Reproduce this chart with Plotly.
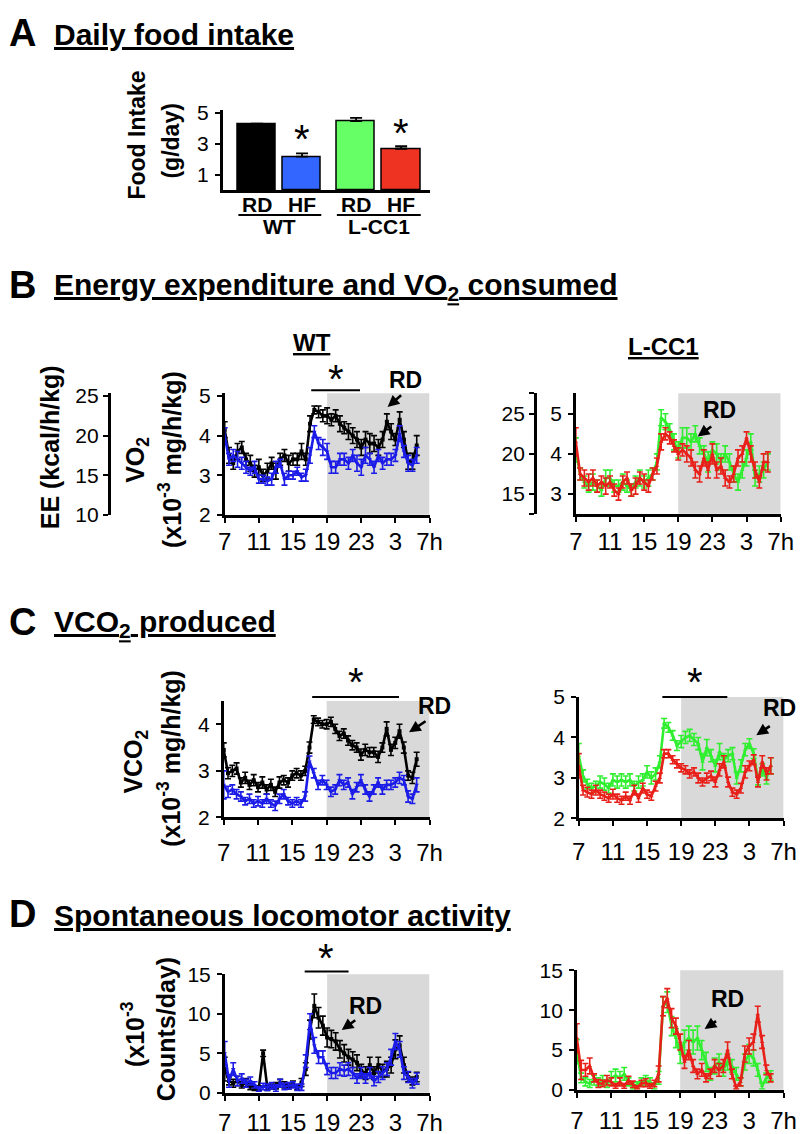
import plotly.graph_objects as go

W, H = 812, 1134
FONT = "Liberation Sans, Arial, Helvetica, sans-serif"

# ---------------- data ----------------
hours = [0, 0.5, 1, 1.5, 2, 2.5, 3, 3.5, 4, 4.5, 5, 5.5, 6, 6.5, 7, 7.5, 8, 8.5, 9, 9.5,
         10, 10.5, 11, 11.5, 12, 12.5, 13, 13.5, 14, 14.5, 15, 15.5, 16, 16.5, 17, 17.5,
         18, 18.5, 19, 19.5, 20, 20.5, 21, 21.5, 22, 22.5]
hour_ticks = [0, 4, 8, 12, 16, 20, 24]
hour_labels = ["7", "11", "15", "19", "23", "3", "7h"]
dark_phase = [12, 24]

bar_genotype = ["WT", "WT", "L-CC1", "L-CC1"]
bar_diet = ["RD", "HF", "RD", "HF"]
food_intake = [4.25, 2.18, 4.48, 2.69]
food_intake_err = [0.06, 0.21, 0.2, 0.16]

# B: VO2 (x10^-3 mg/h/kg)
vo2_wt_rd = [4.15, 3.5, 3.3, 3.6, 3.7, 3.4, 3.3, 3.1, 3.2, 3.0, 3.1, 3.3, 3.1, 3.4, 3.5, 3.3, 3.4, 3.4, 3.6, 3.4,
             4.3, 4.65, 4.6, 4.5, 4.5, 4.4, 4.5, 4.3, 4.2, 4.1, 4.0, 3.9, 3.7, 3.9, 3.8, 3.8, 3.7, 3.9, 4.35, 4.1,
             3.9, 4.4, 3.9, 3.35, 3.35, 3.75]
vo2_wt_rd_err = [0.2, 0.2, 0.15, 0.2, 0.15, 0.15, 0.2, 0.15, 0.2, 0.15, 0.2, 0.15, 0.2, 0.15, 0.15, 0.2, 0.15, 0.15, 0.2, 0.15,
                 0.2, 0.1, 0.15, 0.15, 0.2, 0.15, 0.15, 0.2, 0.15, 0.2, 0.2, 0.2, 0.2, 0.2, 0.25, 0.2, 0.2, 0.2, 0.2, 0.2,
                 0.15, 0.2, 0.2, 0.2, 0.2, 0.25]
vo2_wt_hf = [4.0, 3.4, 3.5, 3.4, 3.3, 3.2, 3.1, 3.2, 2.9, 2.9, 2.85, 2.9, 3.2, 3.3, 2.9, 3.0, 3.0, 3.1, 2.95, 3.0,
             3.5, 4.1, 3.8, 3.7, 3.6, 3.2, 3.2, 3.4, 3.4, 3.3, 3.5, 3.3, 3.2, 3.5, 3.4, 3.2, 3.5, 3.3, 3.4, 3.4,
             3.5, 4.05, 3.6, 3.3, 3.25, 3.5]
vo2_wt_hf_err = [0.2, 0.15, 0.15, 0.2, 0.15, 0.15, 0.1, 0.15, 0.1, 0.1, 0.1, 0.15, 0.15, 0.1, 0.15, 0.1, 0.1, 0.1, 0.1, 0.15,
                 0.2, 0.15, 0.15, 0.2, 0.2, 0.15, 0.15, 0.15, 0.15, 0.15, 0.15, 0.2, 0.2, 0.2, 0.15, 0.15, 0.15, 0.15, 0.15, 0.15,
                 0.15, 0.2, 0.15, 0.2, 0.15, 0.2]
vo2_cc1_rd = [4.1, 3.5, 3.3, 3.2, 3.3, 3.2, 3.1, 3.4, 3.4, 3.2, 3.2, 3.3, 3.2, 3.1, 3.3, 3.4, 3.3, 3.4, 3.5, 3.8,
              4.9, 4.8, 4.6, 4.3, 4.1, 4.4, 4.4, 4.3, 4.5, 4.2, 4.0, 3.8, 4.1, 4.0, 3.8, 4.0, 3.8, 3.5, 3.3, 3.6,
              3.9, 4.3, 3.4, 3.5, 3.6, 3.8]
vo2_cc1_rd_err = [0.3, 0.15, 0.15, 0.15, 0.2, 0.15, 0.15, 0.2, 0.2, 0.15, 0.15, 0.2, 0.15, 0.15, 0.15, 0.2, 0.15, 0.2, 0.15, 0.2,
                  0.2, 0.2, 0.15, 0.2, 0.2, 0.25, 0.25, 0.2, 0.2, 0.2, 0.2, 0.25, 0.2, 0.25, 0.2, 0.2, 0.2, 0.2, 0.2, 0.2,
                  0.2, 0.2, 0.2, 0.2, 0.2, 0.2]
vo2_cc1_hf = [4.3, 3.5, 3.4, 3.3, 3.4, 3.2, 3.3, 3.2, 3.3, 3.1, 3.0, 3.3, 3.4, 3.1, 3.2, 3.4, 3.3, 3.2, 3.5, 3.7,
              4.3, 4.5, 4.4, 4.2, 4.0, 4.1, 4.0, 3.9, 3.6, 3.5, 3.9, 3.6, 4.0, 3.6, 3.7, 3.4, 3.3, 3.5, 3.9, 4.0,
              4.4, 4.0, 3.6, 3.3, 3.8, 3.8]
vo2_cc1_hf_err = [0.35, 0.15, 0.2, 0.2, 0.2, 0.15, 0.15, 0.2, 0.15, 0.15, 0.15, 0.15, 0.15, 0.15, 0.2, 0.15, 0.2, 0.15, 0.15, 0.2,
                  0.2, 0.15, 0.15, 0.15, 0.15, 0.15, 0.2, 0.2, 0.2, 0.2, 0.2, 0.2, 0.25, 0.2, 0.2, 0.2, 0.15, 0.2, 0.2, 0.2,
                  0.15, 0.2, 0.2, 0.15, 0.2, 0.25]
ee_ticks_wt = [10, 15, 20, 25]
ee_ticks_cc1 = [15, 20, 25]

# C: VCO2 (x10^-3 mg/h/kg)
vco2_wt_rd = [3.45, 2.95, 3.0, 3.05, 2.75, 2.85, 2.7, 2.8, 2.65, 2.75, 2.6, 2.7, 2.55, 2.75, 2.8, 2.75, 2.9, 2.95, 2.9, 3.0,
              3.5, 4.1, 4.05, 4.0, 4.0, 4.05, 3.9, 3.75, 3.8, 3.65, 3.55, 3.5, 3.35, 3.45, 3.4, 3.4, 3.3, 3.5, 3.9, 3.45,
              3.6, 3.85, 3.5, 2.9, 2.85, 3.25]
vco2_wt_rd_err = [0.15, 0.12, 0.12, 0.12, 0.1, 0.12, 0.1, 0.12, 0.1, 0.12, 0.1, 0.12, 0.1, 0.12, 0.1, 0.1, 0.1, 0.1, 0.1, 0.1,
                  0.12, 0.08, 0.08, 0.08, 0.1, 0.1, 0.1, 0.1, 0.1, 0.1, 0.1, 0.1, 0.12, 0.12, 0.1, 0.1, 0.12, 0.1, 0.15, 0.12,
                  0.12, 0.15, 0.12, 0.1, 0.12, 0.15]
vco2_wt_hf = [2.7, 2.55, 2.6, 2.5, 2.45, 2.35, 2.4, 2.3, 2.35, 2.3, 2.4, 2.3, 2.25, 2.4, 2.5, 2.35, 2.3, 2.35, 2.3, 2.45,
              3.2, 2.95, 2.7, 2.8, 2.7, 2.55, 2.6, 2.8, 2.7, 2.75, 2.5, 2.65, 2.8, 2.6, 2.45, 2.6, 2.75, 2.6, 2.7, 2.7,
              2.75, 2.85, 2.8, 2.45, 2.4, 2.7]
vco2_wt_hf_err = [0.3, 0.12, 0.1, 0.1, 0.1, 0.08, 0.1, 0.08, 0.1, 0.08, 0.1, 0.08, 0.1, 0.1, 0.1, 0.08, 0.08, 0.08, 0.08, 0.1,
                  0.12, 0.1, 0.1, 0.1, 0.1, 0.1, 0.1, 0.12, 0.1, 0.1, 0.1, 0.1, 0.12, 0.1, 0.1, 0.1, 0.1, 0.1, 0.1, 0.1,
                  0.1, 0.12, 0.1, 0.12, 0.1, 0.15]
vco2_cc1_rd = [3.55, 3.05, 2.85, 2.75, 2.8, 2.9, 2.85, 2.75, 2.95, 2.9, 2.95, 2.9, 2.95, 2.8, 2.9, 2.95, 3.15, 3.0, 3.1, 3.4,
               4.35, 4.25, 4.05, 3.8, 3.9, 4.0, 4.05, 3.95, 3.85, 3.4, 3.75, 3.55, 3.3, 3.65, 3.45, 3.55, 3.6, 3.0, 3.3, 3.7,
               3.85, 3.6, 2.95, 3.2, 3.0, 3.3]
vco2_cc1_rd_err = [0.3, 0.15, 0.12, 0.12, 0.12, 0.15, 0.15, 0.12, 0.15, 0.15, 0.15, 0.15, 0.15, 0.12, 0.15, 0.15, 0.15, 0.15, 0.15, 0.15,
                   0.12, 0.12, 0.12, 0.12, 0.15, 0.15, 0.15, 0.15, 0.15, 0.2, 0.2, 0.15, 0.15, 0.2, 0.15, 0.15, 0.15, 0.15, 0.15, 0.15,
                   0.12, 0.12, 0.12, 0.15, 0.15, 0.2]
vco2_cc1_hf = [3.3, 2.7, 2.65, 2.6, 2.7, 2.6, 2.55, 2.5, 2.6, 2.5, 2.45, 2.55, 2.45, 2.7, 2.5, 2.75, 2.6, 2.55, 2.8, 3.0,
               3.6, 3.6, 3.45, 3.35, 3.25, 3.2, 3.1, 3.15, 3.0, 2.9, 3.0, 3.05, 2.9, 3.2, 3.4, 2.9, 2.65, 2.6, 2.75, 3.15,
               3.3, 3.45, 2.9, 3.4, 3.1, 3.3]
vco2_cc1_hf_err = [0.3, 0.12, 0.12, 0.1, 0.12, 0.1, 0.1, 0.1, 0.12, 0.1, 0.1, 0.1, 0.1, 0.12, 0.1, 0.12, 0.1, 0.1, 0.12, 0.12,
                   0.1, 0.1, 0.1, 0.1, 0.1, 0.1, 0.1, 0.1, 0.12, 0.1, 0.12, 0.12, 0.12, 0.15, 0.15, 0.12, 0.1, 0.1, 0.12, 0.15,
                   0.12, 0.12, 0.12, 0.15, 0.15, 0.2]

# D: locomotor activity (x10^-3 counts/day)
act_wt_rd = [3.0, 1.5, 1.2, 1.5, 1.0, 1.3, 0.8, 0.6, 0.6, 5.0, 0.6, 0.8, 0.9, 1.2, 1.0, 0.8, 1.1, 0.7, 1.3, 3.0,
             8.0, 11.0, 9.5, 8.5, 7.0, 6.8, 6.5, 5.5, 5.0, 4.5, 4.2, 3.8, 2.8, 2.5, 3.5, 2.5, 3.5, 2.8, 3.0, 3.5,
             5.5, 6.0, 3.5, 2.0, 1.5, 2.0]
act_wt_rd_err = [1.5, 0.5, 0.5, 0.6, 0.4, 0.5, 0.4, 0.3, 0.3, 0.4, 0.3, 0.3, 0.4, 0.5, 0.4, 0.3, 0.4, 0.3, 0.5, 0.8,
                 1.2, 1.5, 1.3, 1.2, 1.2, 1.1, 1.1, 1.1, 1.1, 1.0, 1.0, 1.0, 0.8, 0.8, 1.0, 0.8, 1.0, 0.8, 1.0, 1.0,
                 1.2, 1.2, 1.0, 0.6, 0.5, 0.6]
act_wt_hf = [5.0, 1.5, 3.0, 1.5, 1.8, 1.2, 1.5, 1.0, 0.5, 0.8, 0.7, 0.9, 0.6, 1.2, 0.8, 0.9, 1.0, 0.7, 0.7, 4.0,
             9.0, 6.0, 4.5, 4.5, 3.0, 2.5, 2.5, 3.0, 2.8, 3.0, 2.5, 1.8, 2.5, 1.8, 2.5, 1.5, 2.0, 2.5, 3.0, 4.5,
             6.5, 5.5, 2.5, 2.0, 1.2, 1.8]
act_wt_hf_err = [1.5, 0.8, 0.8, 0.6, 0.6, 0.5, 0.5, 0.4, 0.3, 0.4, 0.4, 0.4, 0.4, 0.5, 0.4, 0.4, 0.4, 0.4, 0.4, 0.8,
                 1.0, 1.0, 0.8, 0.8, 0.7, 0.7, 0.7, 0.8, 0.7, 0.8, 0.7, 0.6, 0.7, 0.6, 0.7, 0.6, 0.7, 0.8, 0.8, 1.0,
                 1.0, 1.0, 0.8, 0.7, 0.6, 0.7]
act_cc1_rd = [4.8, 1.5, 1.0, 0.8, 1.2, 1.0, 1.2, 0.8, 1.5, 1.8, 1.5, 2.0, 1.0, 0.5, 0.6, 1.0, 1.2, 1.0, 0.5, 1.5,
              10.5, 11.0, 8.0, 6.5, 4.5, 6.0, 6.5, 6.0, 6.5, 5.0, 3.5, 2.0, 3.0, 3.5, 2.5, 3.5, 3.0, 2.0, 1.0, 3.5,
              4.5, 4.0, 2.5, 0.5, 1.5, 1.8]
act_cc1_rd_err = [1.5, 0.6, 0.5, 0.5, 0.6, 0.5, 0.6, 0.5, 0.8, 0.8, 0.8, 0.8, 0.5, 0.4, 0.4, 0.5, 0.6, 0.5, 0.4, 0.8,
                  1.2, 1.3, 1.2, 1.2, 1.2, 1.5, 1.5, 1.5, 1.5, 1.2, 1.2, 0.8, 1.0, 1.0, 0.8, 1.0, 0.8, 0.8, 0.5, 1.0,
                  1.2, 1.0, 0.8, 0.4, 0.6, 0.6]
act_cc1_hf = [6.5, 2.5, 2.5, 3.0, 1.5, 0.8, 0.8, 1.2, 1.0, 0.5, 1.0, 0.5, 1.2, 0.7, 0.3, 0.8, 0.9, 0.5, 0.8, 2.0,
              10.5, 11.5, 9.0, 8.0, 6.0, 3.5, 5.0, 3.0, 2.0, 2.5, 1.5, 2.0, 3.0, 2.5, 3.0, 5.0, 2.0, 0.3, 1.0, 4.5,
              5.5, 6.0, 9.5, 6.0, 2.5, 1.5]
act_cc1_hf_err = [1.8, 1.2, 0.8, 1.0, 0.5, 0.5, 0.4, 0.6, 0.5, 0.3, 0.5, 0.3, 0.5, 0.4, 0.2, 0.4, 0.5, 0.3, 0.4, 1.0,
                  1.2, 1.2, 1.2, 1.0, 1.0, 0.8, 1.2, 0.8, 0.6, 0.8, 0.5, 0.6, 0.8, 0.8, 0.8, 1.0, 0.6, 0.2, 0.5, 1.0,
                  1.0, 1.0, 1.0, 0.8, 0.6, 0.5]

# ---------------- styling / layout helpers ----------------
C_BLACK = "#000000"
C_BLUE = "#1c1ce8"
C_GREEN = "#30ee30"
C_RED = "#e8201a"
BAR_COLORS = ["#000000", "#3366ff", "#66ff66", "#ee3322"]
GRAY = "#d9d9d9"
PAGE_OFFSET = 8  # the page body margin shifts the figure by this many pixels


def fx(px):
    return (px - PAGE_OFFSET) / W


def fy(py):
    return 1 - (py - PAGE_OFFSET) / H


fig = go.Figure()

# ---------- Panel A: bars ----------
bar_x = [0, 1, 2.2, 3.2]
fig.add_trace(go.Bar(
    x=bar_x, y=food_intake, width=0.85,
    marker=dict(color=BAR_COLORS, line=dict(color="black", width=1.5)),
    error_y=dict(type="data", array=food_intake_err, arrayminus=[0, 0, 0, 0],
                 symmetric=False, color="black", thickness=1.8, width=6),
    xaxis="x", yaxis="y", showlegend=False, hoverinfo="skip"))


def series(x_ax, y_ax, y, err, color, symbol):
    return go.Scatter(
        x=hours, y=y, xaxis=x_ax, yaxis=y_ax, mode="lines+markers",
        line=dict(color=color, width=2.6),
        marker=dict(color=color, size=4, symbol=symbol),
        error_y=dict(type="data", array=err, color=color, thickness=1.6, width=3),
        showlegend=False, hoverinfo="skip", cliponaxis=False)


fig.add_trace(series("x2", "y2", vo2_wt_rd, vo2_wt_rd_err, C_BLACK, "square"))
fig.add_trace(series("x2", "y2", vo2_wt_hf, vo2_wt_hf_err, C_BLUE, "triangle-down"))
fig.add_trace(series("x3", "y3", vo2_cc1_rd, vo2_cc1_rd_err, C_GREEN, "triangle-up"))
fig.add_trace(series("x3", "y3", vo2_cc1_hf, vo2_cc1_hf_err, C_RED, "triangle-up"))
fig.add_trace(series("x4", "y4", vco2_wt_rd, vco2_wt_rd_err, C_BLACK, "square"))
fig.add_trace(series("x4", "y4", vco2_wt_hf, vco2_wt_hf_err, C_BLUE, "triangle-down"))
fig.add_trace(series("x5", "y5", vco2_cc1_rd, vco2_cc1_rd_err, C_GREEN, "triangle-up"))
fig.add_trace(series("x5", "y5", vco2_cc1_hf, vco2_cc1_hf_err, C_RED, "triangle-up"))
fig.add_trace(series("x6", "y6", act_wt_rd, act_wt_rd_err, C_BLACK, "square"))
fig.add_trace(series("x6", "y6", act_wt_hf, act_wt_hf_err, C_BLUE, "triangle-down"))
fig.add_trace(series("x7", "y7", act_cc1_rd, act_cc1_rd_err, C_GREEN, "triangle-up"))
fig.add_trace(series("x7", "y7", act_cc1_hf, act_cc1_hf_err, C_RED, "triangle-up"))
# empty traces so that the EE (kcal/h/kg) axes are created
fig.add_trace(go.Scatter(x=[], y=[], xaxis="x2", yaxis="y8", showlegend=False))
fig.add_trace(go.Scatter(x=[], y=[], xaxis="x3", yaxis="y9", showlegend=False))

AX = dict(showline=True, linecolor="black", linewidth=2.5, showgrid=False,
          zeroline=False, ticks="outside", tickcolor="black", tickwidth=2,
          ticklen=5, fixedrange=True)
XTICKFONT = dict(family=FONT, size=24, color="black")
YTICKFONT = dict(family=FONT, size=21, color="black")


def time_x(x0, x1, anchor, standoff):
    return dict(AX, domain=[fx(x0), fx(x1)], range=[0, 24], anchor=anchor,
                tickvals=hour_ticks, ticktext=hour_labels, tickfont=XTICKFONT,
                ticklabelstandoff=standoff)


def val_y(top, bottom, rng, tickvals, anchor):
    return dict(AX, domain=[fy(bottom), fy(top)], range=rng, anchor=anchor,
                tickvals=tickvals, tickfont=YTICKFONT, ticklabelstandoff=2)


layout_axes = dict(
    xaxis=dict(AX, domain=[fx(221), fx(433)], range=[-0.76, 3.83], anchor="y",
               ticks="", showticklabels=False),
    yaxis=val_y(100, 182, [0, 5.18], [1, 3, 5], "x"),
    xaxis2=time_x(223, 433, "y2", -1),
    yaxis2=val_y(389, 513, [2, 5.07], [2, 3, 4, 5], "x2"),
    xaxis3=time_x(583, 793, "y3", 0),
    yaxis3=val_y(389, 512, [2.51, 5.51], [3, 4, 5], "x3"),
    xaxis4=time_x(222, 433, "y4", 7),
    yaxis4=val_y(703, 822, [2, 4.5], [2, 3, 4], "x4"),
    xaxis5=time_x(586, 796, "y5", 5),
    yaxis5=val_y(699, 823, [2, 5], [2, 3, 4, 5], "x5"),
    xaxis6=time_x(223, 433, "y6", 2),
    yaxis6=val_y(982, 1103, [0, 15], [0, 5, 10, 15], "x6"),
    xaxis7=time_x(584, 796, "y7", 3),
    yaxis7=val_y(978, 1100, [0, 15], [0, 5, 10, 15], "x7"),
    yaxis8=dict(AX, overlaying="y2", anchor="free", position=fx(104), side="left",
                range=[10, 25.35], tickvals=ee_ticks_wt, tickfont=YTICKFONT),
    yaxis9=dict(AX, overlaying="y3", anchor="free", position=fx(541), side="left",
                range=[12.55, 27.55], tickvals=[12.55] + ee_ticks_cc1 + [27.55],
                ticktext=[""] + [str(v) for v in ee_ticks_cc1] + [""], tickfont=YTICKFONT),
)

shapes = []
# dark-phase shading
for xa, ya in [("x2", "y2"), ("x3", "y3"), ("x4", "y4"), ("x5", "y5"), ("x6", "y6"), ("x7", "y7")]:
    shapes.append(dict(type="rect", xref=xa, yref=ya + " domain", x0=dark_phase[0], x1=dark_phase[1],
                       y0=0, y1=1, fillcolor=GRAY, line=dict(width=0), layer="below"))
# significance bars
for x0, x1, y in [(311.7, 361.7, 386), (312.7, 401.7, 699), (671.7, 738.3, 699), (305, 350, 979.3)]:
    shapes.append(dict(type="line", xref="paper", yref="paper", x0=fx(x0), x1=fx(x1),
                       y0=fy(y), y1=fy(y), line=dict(color="black", width=2)))
# genotype brackets under the bar chart
for x0, x1 in [(237, 322), (338, 424)]:
    shapes.append(dict(type="line", xref="paper", yref="paper", x0=fx(x0), x1=fx(x1),
                       y0=fy(207), y1=fy(207), line=dict(color="black", width=2)))

ann = []


def text(px, py, s, size, bold=True, angle=0, xanchor="center", xref="paper", xval=None):
    ann.append(dict(x=fx(px) if xval is None else xval, y=fy(py), xref=xref, yref="paper",
                    text=s, showarrow=False, borderpad=0,
                    xanchor=xanchor, yanchor="middle", textangle=angle,
                    font=dict(family=FONT, size=size, color="black",
                              weight="bold" if bold else "normal")))


def arrow(hx, hy, tx, ty):
    ann.append(dict(x=fx(hx), y=fy(hy), xref="paper", yref="paper", text="",
                    showarrow=True, ax=tx - hx, ay=ty - hy, arrowhead=2, arrowsize=0.9,
                    arrowwidth=2.6, arrowcolor="black", standoff=0, startstandoff=0))


# panel letters and titles
for py, letter, title in [(21, "A", "Daily food intake"),
                          (278, "B", "Energy expenditure and VO<sub>2</sub> consumed"),
                          (622, "C", "VCO<sub>2</sub> produced"),
                          (920, "D", "Spontaneous locomotor activity")]:
    text(1, py, letter, 38, xanchor="left")
    text(47, py + 2, "<u>" + title + "</u>", 30, xanchor="left")

# diet labels under the bars (on the bar axis) and genotype labels
for xv, d in zip(bar_x, bar_diet):
    text(0, 196, d, 21, xref="x", xval=xv)
text(279.5, 219, "WT", 21)
text(381, 219, "L-CC1", 21)

# column headers
text(313, 337, "<u>WT</u>", 24)
text(673, 341, "<u>L-CC1</u>", 24)

# y-axis titles
text(133, 125, "Food Intake", 23, angle=-90)
text(168, 132, "(g/day)", 23, angle=-90)
text(44, 444, "EE (kcal/h/kg)", 25, angle=-90)
text(133, 457, "VO<sub>2</sub>", 25, angle=-90)
text(167, 457, "(x10<sup>-3</sup> mg/h/kg)", 25, angle=-90)
text(131, 765, "VCO<sub>2</sub>", 25, angle=-90)
text(166, 762, "(x10<sup>-3</sup> mg/h/kg)", 25, angle=-90)
text(129, 1043, "(x10<sup>-3</sup>", 25, angle=-90)
text(163, 1038, "Counts/day)", 25, angle=-90)

# significance asterisks
for px, py in [(302, 128), (404, 122), (337, 373), (358, 683), (705, 683), (327, 964)]:
    text(px, py + 1, "*", 40, bold=False)

# RD labels with arrows
for (lx, ly), (hx, hy, tx, ty) in [((408, 375), (390, 403, 405, 390)),
                                   ((730, 406), (708, 433, 723, 422)),
                                   ((438, 708), (412, 735, 430, 723)),
                                   ((792, 710), (768, 738, 783, 728)),
                                   ((367, 1014), (343, 1039, 358, 1028)),
                                   ((738, 1007), (715, 1038, 728, 1029))]:
    text(lx, ly, "RD", 23)
    arrow(hx, hy, tx, ty)

fig.update_layout(
    width=W, height=H, margin=dict(l=0, r=0, t=0, b=0),
    paper_bgcolor="white", plot_bgcolor="white",
    font=dict(family=FONT, color="black"),
    showlegend=False, shapes=shapes, annotations=ann, bargap=0,
    **layout_axes)

fig.write_html("out.html")
